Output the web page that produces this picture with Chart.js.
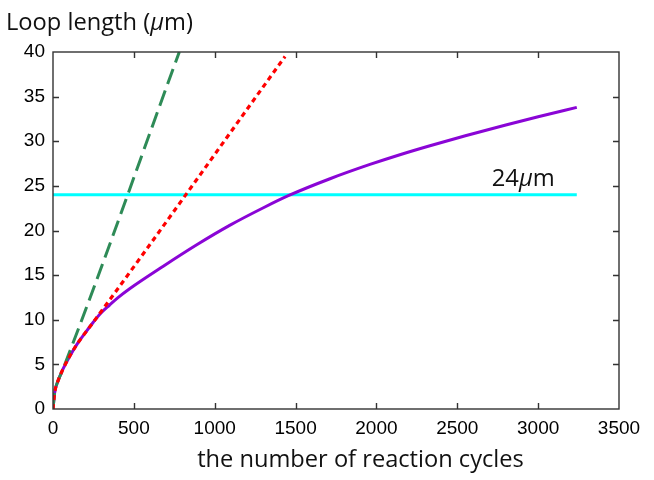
<!DOCTYPE html>
<html><head><meta charset="utf-8">
<script src="https://cdn.jsdelivr.net/npm/chart.js@4.4.1/dist/chart.umd.min.js"></script>
<style>html,body{margin:0;padding:0;background:#fff}#wrap{width:654px;height:480px;position:relative}</style>
</head><body><div id="wrap"><canvas id="c" width="654" height="480"></canvas></div>
<script>
// ---- data ----
const xTickValues = [0, 500, 1000, 1500, 2000, 2500, 3000, 3500];
const yTickValues = [0, 5, 10, 15, 20, 25, 30, 35, 40];

const purpleX = [0, 10, 30, 60, 100, 150, 200, 250, 291, 350, 400, 476, 682, 889, 1095, 1301, 1455, 1713, 1960, 2150, 2331, 2550, 2800, 3000, 3239];
const purpleY = [0, 1.8, 3.1, 4.4, 5.8, 7.3, 8.55, 9.75, 10.65, 11.65, 12.45, 13.5, 16.0, 18.4, 20.6, 22.55, 23.9, 25.8, 27.4, 28.52, 29.5, 30.62, 31.82, 32.74, 33.8];

const redX = [0, 10, 30, 60, 100, 150, 200, 250, 1435];
const redY = [0, 1.8, 3.1, 4.4, 5.8, 7.3, 8.55, 9.75, 39.5];

const greenX = [0, 10, 30, 60, 781];
const greenY = [0, 1.8, 3.1, 4.4, 40];

const cyanX = [0, 3239];
const cyanY = [24, 24];

const yTitle = [['Loop length (', false], ['\u03bc', true], ['m)', false]];
const xTitle = 'the number of reaction cycles';
const levelLabel = [['24', false], ['\u03bc', true], ['m', false]];
const levelLabelAt = {x: 2713, y: 25.0};

const pts = (xs, ys) => xs.map((x, i) => ({x: x, y: ys[i]}));

const FONT = '"Open Sans", "DejaVu Sans", sans-serif';
const TICKFONT = '"Liberation Sans", Arial, sans-serif';

function richWidth(ctx, parts, size) {
  let w = 0;
  for (const [t, it] of parts) {
    ctx.font = (it ? 'italic ' : '') + size + 'px ' + FONT;
    w += ctx.measureText(t).width;
  }
  return w;
}
function drawRich(ctx, parts, x, y, size, align) {
  const w = richWidth(ctx, parts, size);
  let cx = align === 'center' ? x - w / 2 : x;
  ctx.textBaseline = 'alphabetic';
  ctx.textAlign = 'left';
  for (const [t, it] of parts) {
    ctx.font = (it ? 'italic ' : '') + size + 'px ' + FONT;
    ctx.fillText(t, cx, y);
    cx += ctx.measureText(t).width;
  }
}
function fitSize(ctx, parts, target) {
  const w = richWidth(ctx, parts, 20);
  return 20 * target / w;
}

const framePlugin = {
  id: 'frame',
  afterDatasetsDraw(chart) {
    const ctx = chart.ctx;
    const a = chart.chartArea;
    const xs = chart.scales.x, ys = chart.scales.y;
    ctx.save();
    ctx.strokeStyle = '#333';
    ctx.lineWidth = 1.4;
    ctx.strokeRect(a.left, a.top, a.right - a.left, a.bottom - a.top);
    const tl = 6;
    ctx.beginPath();
    for (const v of xTickValues) {
      const px = Math.round(xs.getPixelForValue(v)) + 0.5;
      if (px <= a.left + 1 || px >= a.right - 1) continue;
      ctx.moveTo(px, a.bottom); ctx.lineTo(px, a.bottom - tl);
      ctx.moveTo(px, a.top); ctx.lineTo(px, a.top + tl);
    }
    for (const v of yTickValues) {
      const py = Math.round(ys.getPixelForValue(v)) + 0.5;
      if (py <= a.top + 1 || py >= a.bottom - 1) continue;
      ctx.moveTo(a.left, py); ctx.lineTo(a.left + tl, py);
      ctx.moveTo(a.right, py); ctx.lineTo(a.right - tl, py);
    }
    ctx.stroke();

    ctx.fillStyle = '#111';
    let s = fitSize(ctx, yTitle, 187);
    drawRich(ctx, yTitle, 6, 30, s, 'left');
    s = fitSize(ctx, [[xTitle, false]], 327);
    drawRich(ctx, [[xTitle, false]], (197 + 524) / 2, 467, s, 'center');
    s = fitSize(ctx, levelLabel, 63);
    drawRich(ctx, levelLabel, xs.getPixelForValue(levelLabelAt.x), ys.getPixelForValue(levelLabelAt.y), s, 'left');
    ctx.restore();
  }
};

new Chart(document.getElementById('c'), {
  type: 'line',
  data: {
    datasets: [
      {data: pts(cyanX, cyanY), borderColor: '#00FFFF', borderWidth: 3, pointRadius: 0, order: 4},
      {data: pts(purpleX, purpleY), borderColor: '#8A05D6', borderWidth: 3, pointRadius: 0, cubicInterpolationMode: 'monotone', order: 3},
      {data: pts(greenX, greenY), borderColor: '#2E8B57', borderWidth: 3, borderDash: [16, 7], pointRadius: 0, cubicInterpolationMode: 'monotone', order: 2},
      {data: pts(redX, redY), borderColor: '#FF0000', borderWidth: 3.2, borderDash: [5, 4], pointRadius: 0, cubicInterpolationMode: 'monotone', order: 1}
    ]
  },
  options: {
    responsive: false,
    devicePixelRatio: 1,
    animation: false,
    layout: {padding: {left: 0, top: 52, right: 35, bottom: 0}},
    plugins: {legend: {display: false}, tooltip: {enabled: false}},
    scales: {
      x: {
        type: 'linear', min: 0, max: 3500,
        afterBuildTicks: (sc) => { sc.ticks = xTickValues.map(v => ({value: v})); },
        ticks: {color: '#000', font: {family: TICKFONT, size: 19}, padding: 8, maxRotation: 0, autoSkip: false, callback: (v) => String(v)},
        grid: {display: true, drawOnChartArea: false, drawTicks: false, color: 'rgba(0,0,0,0)'},
        border: {display: false},
        afterFit: (sc) => { sc.height = 71; }
      },
      y: {
        type: 'linear', min: 0, max: 40,
        afterBuildTicks: (sc) => { sc.ticks = yTickValues.map(v => ({value: v})); },
        ticks: {color: '#000', font: {family: TICKFONT, size: 19}, padding: 8, autoSkip: false, callback: (v) => String(v)},
        grid: {display: true, drawOnChartArea: false, drawTicks: false, color: 'rgba(0,0,0,0)'},
        border: {display: false},
        afterFit: (sc) => { sc.width = 53; }
      }
    }
  },
  plugins: [framePlugin]
});
</script>
</body></html>
